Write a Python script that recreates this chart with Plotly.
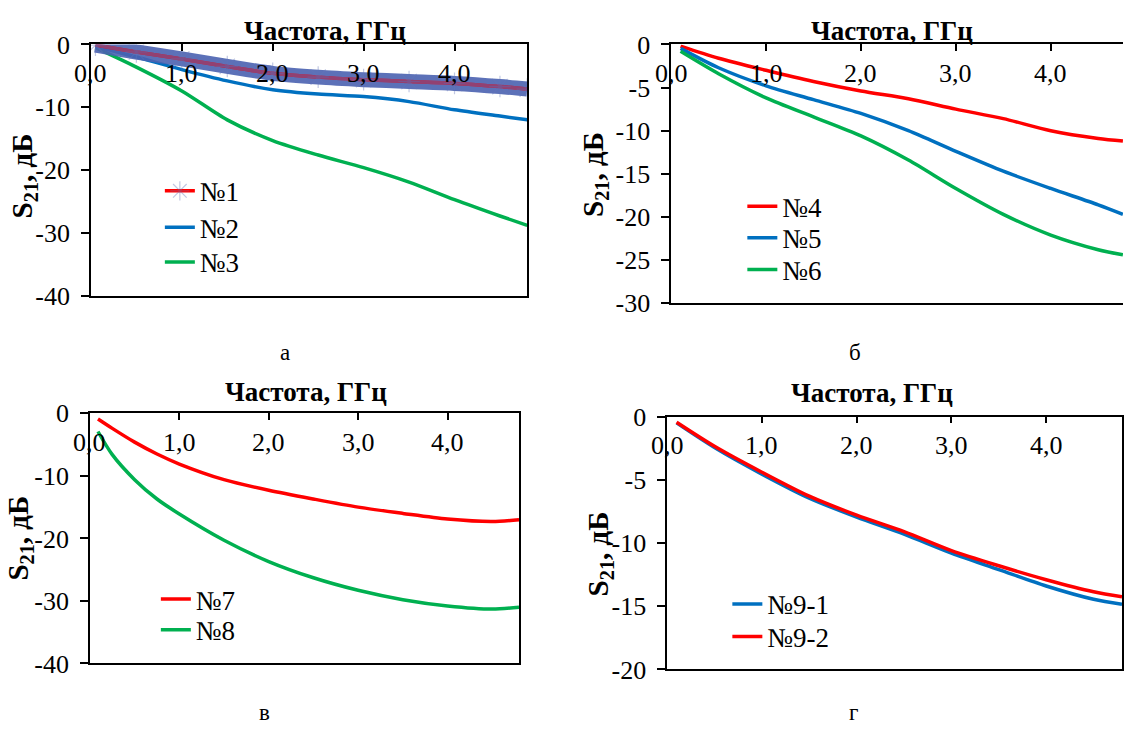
import plotly.graph_objects as go

W, H = 1124, 738

# ---------------- data ----------------
xtick_vals = [0, 1, 2, 3, 4]
xtick_text = ["0,0", "1,0", "2,0", "3,0", "4,0"]

ytick_vals_a = [0, -10, -20, -30, -40]
ytick_text_a = ["0", "-10", "-20", "-30", "-40"]
ytick_vals_b = [0, -5, -10, -15, -20, -25, -30]
ytick_text_b = ["0", "-5", "-10", "-15", "-20", "-25", "-30"]
ytick_vals_c = [0, -10, -20, -30, -40]
ytick_text_c = ["0", "-10", "-20", "-30", "-40"]
ytick_vals_d = [0, -5, -10, -15, -20]
ytick_text_d = ["0", "-5", "-10", "-15", "-20"]

# panel а
freq_a = [0.05, 0.5, 1.0, 1.5, 2.0, 2.5, 3.0, 3.5, 4.0, 4.5, 4.8]
s21_n1 = [-0.1, -1.2, -2.3, -3.5, -4.6, -5.2, -5.6, -5.9, -6.2, -6.7, -7.1]
s21_n2 = [-0.3, -2.0, -4.0, -5.8, -7.2, -7.9, -8.3, -9.1, -10.4, -11.4, -12.0]
s21_n3 = [-0.5, -3.6, -7.4, -12.0, -15.3, -17.6, -19.6, -21.9, -24.7, -27.3, -28.8]

# panel б
freq_b = [0.1, 0.5, 1.0, 1.5, 2.0, 2.5, 3.0, 3.5, 4.0, 4.5, 4.76]
s21_n4 = [-0.2, -1.6, -3.0, -4.3, -5.4, -6.3, -7.5, -8.6, -10.0, -10.9, -11.2]
s21_n5 = [-0.45, -2.7, -4.8, -6.4, -8.0, -10.0, -12.4, -14.7, -16.7, -18.6, -19.7]
s21_n6 = [-0.8, -3.4, -6.2, -8.4, -10.6, -13.4, -16.7, -19.7, -22.1, -23.8, -24.4]

# panel в
freq_c = [0.09, 0.25, 0.5, 0.75, 1.0, 1.5, 2.0, 2.5, 3.0, 3.5, 4.0, 4.5, 4.8]
s21_n7 = [-0.9, -2.4, -4.6, -6.5, -8.1, -10.6, -12.3, -13.7, -15.0, -16.0, -16.9, -17.3, -17.0]
s21_n8 = [-2.9, -6.6, -10.6, -13.7, -16.1, -20.3, -23.7, -26.3, -28.3, -29.8, -30.8, -31.3, -31.0]

# panel г
freq_d = [0.1, 0.5, 1.0, 1.5, 2.0, 2.5, 3.0, 3.5, 4.0, 4.5, 4.8]
s21_n9_1 = [-0.5, -2.45, -4.55, -6.45, -7.95, -9.3, -10.8, -12.1, -13.4, -14.45, -14.85]
s21_n9_2 = [-0.45, -2.35, -4.4, -6.3, -7.8, -9.1, -10.6, -11.8, -12.9, -13.85, -14.25]

names_a = ["№1", "№2", "№3"]
names_b = ["№4", "№5", "№6"]
names_c = ["№7", "№8"]
names_d = ["№9-1", "№9-2"]

# ---------------- style ----------------
RED = "#FF0000"
BLUE = "#0070C0"
GREEN = "#00B050"
BAND = "rgba(74,98,176,0.9)"
FONT = "Liberation Serif"
LW = 3.5

def px(x):
    return x / W

def py(y):
    return 1 - y / H

# panel geometry in pixels: (left, right, top, bottom)
geo = {
    "a": (91, 527.7, 31.7, 293.3),
    "b": (671.7, 1124, 31.7, 301),
    "c": (90, 519.5, 415.7, 676),
    "d": (667.7, 1123, 419, 682.3),
}

# legend item placement (text start x, item centre y), pixels
leg_pos = {
    "№1": (198, 184.5), "№2": (198, 222.5), "№3": (198, 258.5),
    "№4": (781, 200.5), "№5": (781, 233.5), "№6": (781, 266.5),
    "№7": (194, 609.5), "№8": (194, 641.5),
    "№9-1": (766, 614.5), "№9-2": (766, 648.5),
}
leg_keys = {}
for i, k in enumerate(leg_pos):
    leg_keys[k] = "legend" if i == 0 else "legend%d" % (i + 1)

fig = go.Figure()

def line(x, y, name, color, xa, ya, width=LW):
    fig.add_trace(go.Scatter(
        x=x, y=y, name=name, mode="lines",
        line=dict(color=color, width=width, shape="spline", smoothing=0.8),
        xaxis=xa, yaxis=ya, legend=leg_keys[name]))

# panel а
line(freq_a, s21_n3, names_a[2], GREEN, "x", "y")
line(freq_a, s21_n2, names_a[1], BLUE, "x", "y")
fig.add_trace(go.Scatter(
    x=freq_a, y=s21_n1, mode="lines", showlegend=False, hoverinfo="skip",
    line=dict(color=BAND, width=15, shape="spline", smoothing=0.8),
    xaxis="x", yaxis="y"))
fig.add_trace(go.Scatter(
    x=freq_a, y=s21_n1, name=names_a[0], mode="lines+markers",
    line=dict(color=RED, width=LW, shape="spline", smoothing=0.8),
    marker=dict(symbol="asterisk-open", size=18, color="rgba(100,118,185,0.4)",
                line=dict(color="rgba(100,118,185,0.4)", width=1.2)),
    xaxis="x", yaxis="y", legend=leg_keys[names_a[0]]))
fig.add_trace(go.Scatter(
    x=freq_a, y=s21_n1, mode="lines", showlegend=False, hoverinfo="skip",
    line=dict(color="rgba(88,100,175,0.65)", width=LW, shape="spline", smoothing=0.8),
    xaxis="x", yaxis="y"))

# panel б
line(freq_b, s21_n4, names_b[0], RED, "x2", "y2")
line(freq_b, s21_n5, names_b[1], BLUE, "x2", "y2")
line(freq_b, s21_n6, names_b[2], GREEN, "x2", "y2")

# panel в
line(freq_c, s21_n7, names_c[0], RED, "x3", "y3")
line(freq_c, s21_n8, names_c[1], GREEN, "x3", "y3")

# panel г
line(freq_d, s21_n9_1, names_d[0], BLUE, "x4", "y4")
line(freq_d, s21_n9_2, names_d[1], RED, "x4", "y4")

tickfont = dict(family=FONT, size=26, color="black")

def xaxis(key, rng, ya, mirror=True):
    l, r, t, b = geo[key]
    return dict(domain=[px(l), min(px(r), 1.0)], range=rng, side="top", anchor=ya,
                tickvals=xtick_vals, ticks="inside", showticklabels=False,
                ticklen=7, tickwidth=1.5, tickcolor="black",
                showline=True, linecolor="black", linewidth=1.5, mirror=mirror,
                showgrid=False, zeroline=False, fixedrange=True)

def yaxis(key, rng, vals, texts, xa, mirror=True):
    l, r, t, b = geo[key]
    return dict(domain=[py(b), py(t)], range=rng, anchor=xa,
                tickvals=vals, ticktext=texts, ticks="outside", ticklen=8,
                tickwidth=1.5, tickcolor="black", ticklabelstandoff=6,
                showline=True, linecolor="black", linewidth=1.5, mirror=mirror,
                showgrid=False, zeroline=False, tickfont=tickfont, fixedrange=True)

legfont = dict(family=FONT, size=27, color="black")
legends = {}
for name, (tx, cy) in leg_pos.items():
    legends[leg_keys[name]] = dict(
        x=px(tx - 38), y=py(cy), xanchor="left", yanchor="middle", font=legfont,
        bgcolor="rgba(0,0,0,0)", borderwidth=0, itemwidth=30)

annotations = []
# x tick labels (inside, below the top axis line)
for xa, key in [("x", "a"), ("x2", "b"), ("x3", "c"), ("x4", "d")]:
    l, r, t, b = geo[key]
    for v, txt in zip(xtick_vals, xtick_text):
        annotations.append(dict(text=txt, x=v, xref=xa, y=py(t + 30), yref="paper",
                                showarrow=False, xanchor="center", yanchor="middle",
                                font=tickfont))
title_pos = [(325, 18), (893, 18), (306, 393), (873, 395)]
for (x, y) in title_pos:
    annotations.append(dict(text="<b>Частота, ГГц</b>", x=px(x), y=py(y),
                            xref="paper", yref="paper", showarrow=False,
                            xanchor="center", yanchor="middle",
                            font=dict(family=FONT, size=27, color="black")))
ytitle_pos = [(24, 168), (596, 167), (20, 545), (600, 562)]
for (x, y) in ytitle_pos:
    annotations.append(dict(text="<b>S<sub>21</sub>, дБ</b>", x=px(x), y=py(y),
                            xref="paper", yref="paper", showarrow=False,
                            textangle=-90, xanchor="center", yanchor="middle",
                            font=dict(family=FONT, size=29, color="black")))
panel_labels = [("а", 285, 352), ("б", 856, 352), ("в", 265, 727), ("г", 854, 727)]
for (t, x, y) in panel_labels:
    annotations.append(dict(text=t, x=px(x), y=py(y), xref="paper", yref="paper",
                            showarrow=False, xanchor="center", yanchor="middle",
                            font=dict(family=FONT, size=23, color="black")))

fig.update_layout(
    width=W, height=H, autosize=False,
    margin=dict(l=0, r=0, t=0, b=0, pad=0),
    paper_bgcolor="white", plot_bgcolor="white",
    xaxis=xaxis("a", [0, 4.8], "y"),
    yaxis=yaxis("a", [-40, 0], ytick_vals_a, ytick_text_a, "x"),
    xaxis2=xaxis("b", [0, (1124 - 671.7) / 95.0], "y2"),
    yaxis2=yaxis("b", [-30, 0], ytick_vals_b, ytick_text_b, "x2", mirror=False),
    xaxis3=xaxis("c", [0, 4.8], "y3"),
    yaxis3=yaxis("c", [-40, 0], ytick_vals_c, ytick_text_c, "x3"),
    xaxis4=xaxis("d", [0, 4.8], "y4"),
    yaxis4=yaxis("d", [-20, 0], ytick_vals_d, ytick_text_d, "x4"),
    annotations=annotations,
    showlegend=True,
    **legends,
)

fig.write_html(
    "out.html",
    config={"displayModeBar": False, "responsive": False},
    post_script="document.body.style.margin='0';document.body.style.overflow='hidden';",
)
